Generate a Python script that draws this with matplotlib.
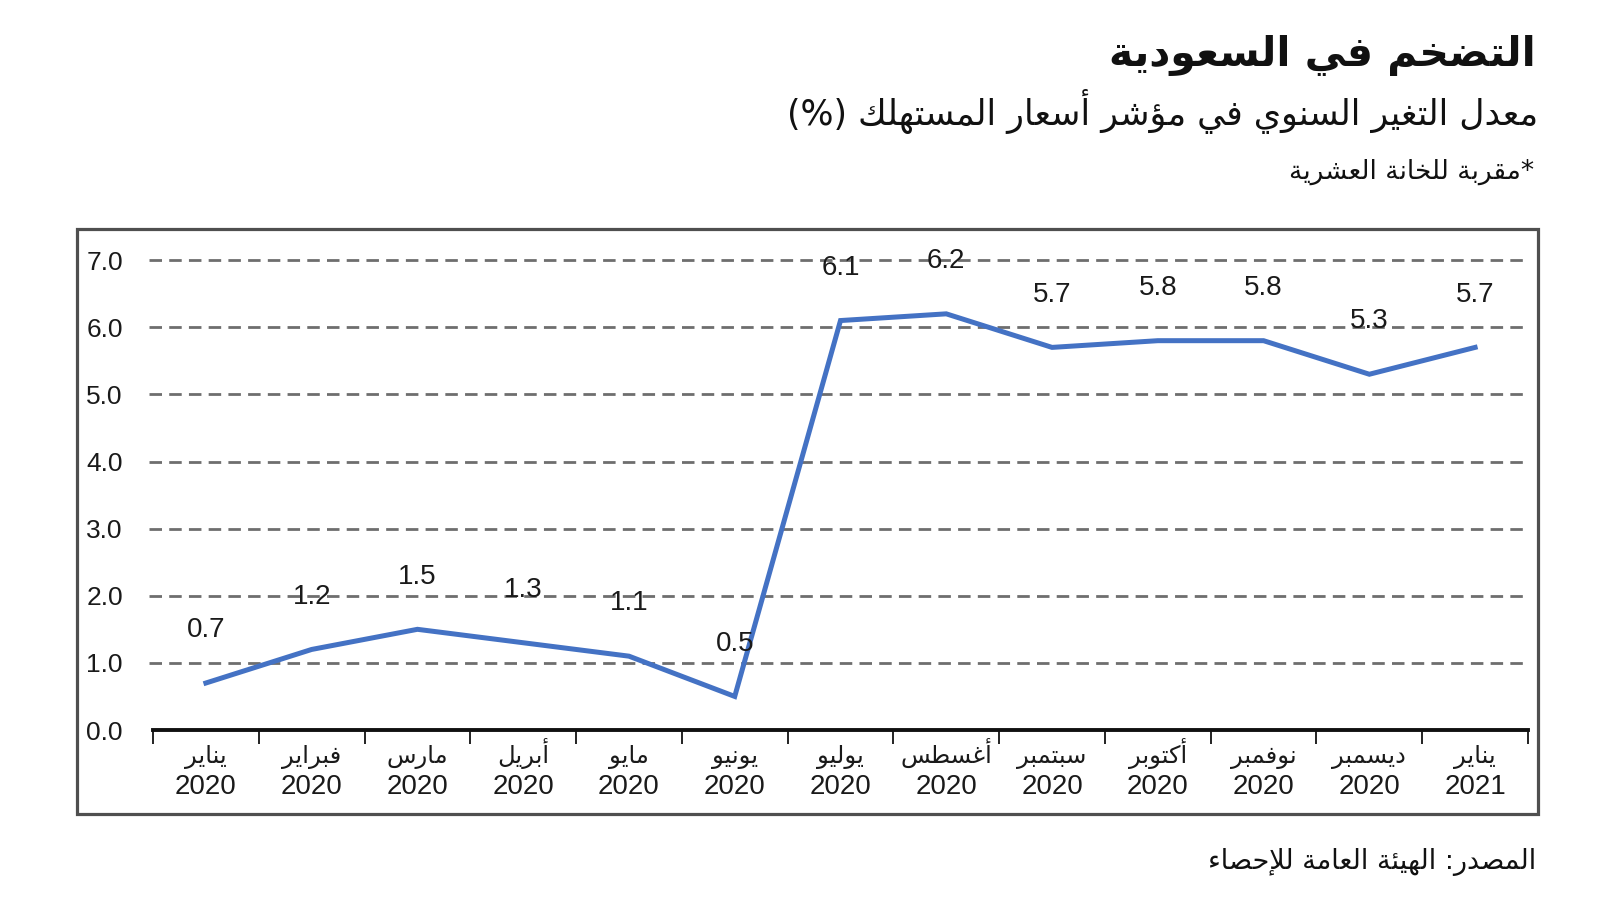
import re
import matplotlib
matplotlib.use("Agg")
import matplotlib.pyplot as plt
from matplotlib.patches import Rectangle
import numpy as np

# ---------------- data ----------------
months = ["يناير", "فبراير", "مارس", "أبريل", "مايو", "يونيو", "يوليو",
          "أغسطس", "سبتمبر", "أكتوبر", "نوفمبر", "ديسمبر", "يناير"]
years = ["2020"] * 12 + ["2021"]
values = [0.7, 1.2, 1.5, 1.3, 1.1, 0.5, 6.1, 6.2, 5.7, 5.8, 5.8, 5.3, 5.7]
yticks = [0, 1, 2, 3, 4, 5, 6, 7]

title = "التضخم في السعودية"
subtitle = "معدل التغير السنوي في مؤشر أسعار المستهلك (%)"
note = "*مقربة للخانة العشرية"
source = "المصدر: الهيئة العامة للإحصاء"

# ---------------- minimal Arabic shaping ----------------
FORMS = {
    '\u0621': ('\uFE80', None, None, None),
    '\u0622': ('\uFE81', '\uFE82', None, None),
    '\u0623': ('\uFE83', '\uFE84', None, None),
    '\u0624': ('\uFE85', '\uFE86', None, None),
    '\u0625': ('\uFE87', '\uFE88', None, None),
    '\u0626': ('\uFE89', '\uFE8A', '\uFE8B', '\uFE8C'),
    '\u0627': ('\uFE8D', '\uFE8E', None, None),
    '\u0628': ('\uFE8F', '\uFE90', '\uFE91', '\uFE92'),
    '\u0629': ('\uFE93', '\uFE94', None, None),
    '\u062A': ('\uFE95', '\uFE96', '\uFE97', '\uFE98'),
    '\u062B': ('\uFE99', '\uFE9A', '\uFE9B', '\uFE9C'),
    '\u062C': ('\uFE9D', '\uFE9E', '\uFE9F', '\uFEA0'),
    '\u062D': ('\uFEA1', '\uFEA2', '\uFEA3', '\uFEA4'),
    '\u062E': ('\uFEA5', '\uFEA6', '\uFEA7', '\uFEA8'),
    '\u062F': ('\uFEA9', '\uFEAA', None, None),
    '\u0630': ('\uFEAB', '\uFEAC', None, None),
    '\u0631': ('\uFEAD', '\uFEAE', None, None),
    '\u0632': ('\uFEAF', '\uFEB0', None, None),
    '\u0633': ('\uFEB1', '\uFEB2', '\uFEB3', '\uFEB4'),
    '\u0634': ('\uFEB5', '\uFEB6', '\uFEB7', '\uFEB8'),
    '\u0635': ('\uFEB9', '\uFEBA', '\uFEBB', '\uFEBC'),
    '\u0636': ('\uFEBD', '\uFEBE', '\uFEBF', '\uFEC0'),
    '\u0637': ('\uFEC1', '\uFEC2', '\uFEC3', '\uFEC4'),
    '\u0638': ('\uFEC5', '\uFEC6', '\uFEC7', '\uFEC8'),
    '\u0639': ('\uFEC9', '\uFECA', '\uFECB', '\uFECC'),
    '\u063A': ('\uFECD', '\uFECE', '\uFECF', '\uFED0'),
    '\u0641': ('\uFED1', '\uFED2', '\uFED3', '\uFED4'),
    '\u0642': ('\uFED5', '\uFED6', '\uFED7', '\uFED8'),
    '\u0643': ('\uFED9', '\uFEDA', '\uFEDB', '\uFEDC'),
    '\u0644': ('\uFEDD', '\uFEDE', '\uFEDF', '\uFEE0'),
    '\u0645': ('\uFEE1', '\uFEE2', '\uFEE3', '\uFEE4'),
    '\u0646': ('\uFEE5', '\uFEE6', '\uFEE7', '\uFEE8'),
    '\u0647': ('\uFEE9', '\uFEEA', '\uFEEB', '\uFEEC'),
    '\u0648': ('\uFEED', '\uFEEE', None, None),
    '\u0649': ('\uFEEF', '\uFEF0', None, None),
    '\u064A': ('\uFEF1', '\uFEF2', '\uFEF3', '\uFEF4'),
}
LAMALEF = {
    '\u0622': ('\uFEF5', '\uFEF6'),
    '\u0623': ('\uFEF7', '\uFEF8'),
    '\u0625': ('\uFEF9', '\uFEFA'),
    '\u0627': ('\uFEFB', '\uFEFC'),
}
MIRROR = {'(': ')', ')': '('}


def shape(s):
    ch = list(s)
    n = len(ch)
    res = []
    i = 0
    while i < n:
        c = ch[i]
        if c not in FORMS:
            res.append(c)
            i += 1
            continue
        prev = ch[i - 1] if i > 0 else None
        jp = prev is not None and prev in FORMS and FORMS[prev][2] is not None
        if c == '\u0644' and i + 1 < n and ch[i + 1] in LAMALEF:
            iso, fin = LAMALEF[ch[i + 1]]
            res.append(fin if jp else iso)
            i += 2
            continue
        nxt = ch[i + 1] if i + 1 < n else None
        jn = FORMS[c][2] is not None and nxt is not None and nxt in FORMS
        iso, fin, ini, med = FORMS[c]
        if jp and jn:
            res.append(med)
        elif jp:
            res.append(fin)
        elif jn:
            res.append(ini)
        else:
            res.append(iso)
        i += 1
    return ''.join(res)


def rtl(s):
    lines = []
    for line in s.split('\n'):
        sh = shape(line)
        toks = re.findall(r'[0-9.]+|.', sh)
        lines.append(''.join(MIRROR.get(t, t) if len(t) == 1 else t
                             for t in reversed(toks)))
    return '\n'.join(lines)


# ---------------- figure ----------------
AR = ['DejaVu Sans']
NUM = ['Liberation Sans Narrow', 'Liberation Sans', 'DejaVu Sans']
NUMR = ['Liberation Sans', 'DejaVu Sans']

fig = plt.figure(figsize=(16, 9), dpi=100)
fig.patch.set_facecolor('white')

# outer frame
fig.add_artist(Rectangle((77 / 1600, 1 - 814 / 900), (1538 - 77) / 1600,
                         (814 - 229) / 900, transform=fig.transFigure,
                         fill=False, edgecolor='#4f4f4f', linewidth=2.3))

AX_H = 490
ax = fig.add_axes([153 / 1600, 170 / 900, (1528 - 153) / 1600, AX_H / 900])
x = np.arange(len(values))
ax.set_xlim(-0.5, len(values) - 0.5)
ax.set_ylim(0, 7.3)

for yv in yticks[1:]:
    ax.axhline(yv, color='#6e6e6e', lw=2.0, ls=(0, (4.5, 2.6)), zorder=1,
               xmin=-0.003, xmax=1.0, clip_on=False)

ax.plot(x, values, color='#4472C4', lw=3.6, zorder=3, solid_joinstyle='miter')

for xi, v in zip(x, values):
    ax.annotate(f"{v:.1f}", (xi, v), xytext=(0, 38), textcoords='offset points',
                ha='center', va='center', fontsize=20, family=NUM,
                color='#1a1a1a', zorder=4)

for sp in ['top', 'right', 'left']:
    ax.spines[sp].set_visible(False)
ax.spines['bottom'].set_linewidth(2.8)
ax.spines['bottom'].set_color('#111111')
ax.spines['bottom'].set_zorder(5)

ax.set_yticks(yticks)
ax.set_yticklabels([f"{t:.1f}" for t in yticks], family=NUMR, fontsize=19,
                   color='#1a1a1a', ha='left')
ax.tick_params(axis='y', length=0, pad=48)

ax.set_xticks(np.arange(len(values) + 1) - 0.5)
ax.set_xticklabels([])
ax.tick_params(axis='x', which='major', length=10, width=1.3, color='#111111',
               direction='out')

# category labels: month (Arabic) and year on separate baselines
xt = ax.get_xaxis_transform()
for xi, m, yr in zip(x, months, years):
    ax.text(xi, -33 / AX_H, rtl(m), transform=xt, ha='center', va='baseline',
            family=AR, fontsize=17.5, color='#1a1a1a', clip_on=False)
    ax.text(xi, -64 / AX_H, yr, transform=xt, ha='center', va='baseline',
            family=NUM, fontsize=20, color='#1a1a1a', clip_on=False)

# titles
fig.text(1536 / 1600, 1 - 55 / 900, rtl(title), ha='right', va='center',
         family=AR, fontsize=29.5, fontweight='bold', color='#111111')
fig.text(1538 / 1600, 1 - 111 / 900, rtl(subtitle), ha='right', va='center',
         family=AR, fontsize=25, color='#111111')
fig.text(1534 / 1600, 1 - 172 / 900, rtl(note), ha='right', va='center',
         family=AR, fontsize=19, color='#111111')
fig.text(1536 / 1600, 1 - 862 / 900, rtl(source), ha='right', va='center',
         family=AR, fontsize=19.5, color='#111111')

fig.savefig('out.png', dpi=100, facecolor='white')
